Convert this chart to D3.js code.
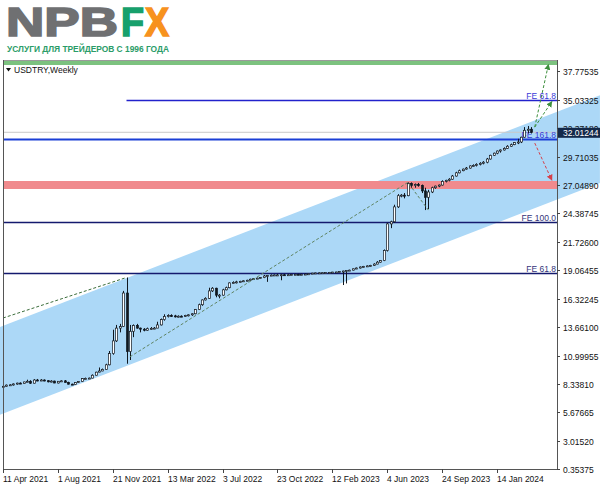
<!DOCTYPE html>
<html>
<head>
<meta charset="utf-8">
<script src="https://cdn.jsdelivr.net/npm/d3@7"></script>
<style>
  body { margin: 0; background: #fff; }
  svg { display: block; }
</style>
</head>
<body>
<svg id="chart" width="600" height="489"></svg>
<script>
// weekly candles, first one starts on this sunday
const firstWeek = "2021-04-11";
// [open, high, low, close]
const candles = [
  [8.10,8.20,8.05,8.13],[8.13,8.30,8.10,8.24],[8.24,8.33,8.18,8.27],[8.27,8.40,8.20,8.35],
  [8.35,8.47,8.28,8.43],[8.43,8.50,8.35,8.38],[8.38,8.56,8.37,8.54],[8.54,8.75,8.52,8.60],
  [8.60,8.70,8.35,8.42],[8.42,8.80,8.40,8.72],[8.72,8.82,8.60,8.70],[8.70,8.80,8.62,8.72],
  [8.72,8.78,8.60,8.66],[8.66,8.70,8.50,8.55],[8.55,8.70,8.50,8.62],[8.62,8.66,8.42,8.44],
  [8.44,8.62,8.40,8.60],[8.60,8.70,8.55,8.64],[8.64,8.72,8.48,8.50],[8.50,8.56,8.30,8.33],
  [8.33,8.38,8.26,8.30],[8.30,8.50,8.28,8.48],[8.48,8.60,8.45,8.58],[8.58,8.90,8.55,8.85],
  [8.85,8.95,8.80,8.87],[8.87,8.95,8.82,8.90],[8.90,9.25,8.88,9.17],[9.17,9.50,9.15,9.46],
  [9.46,9.90,9.45,9.57],[9.57,9.80,9.55,9.72],[9.72,10.25,9.70,10.15],[10.15,11.45,10.10,11.20],
  [11.20,13.45,11.10,12.40],[12.40,13.90,12.30,13.60],[13.60,14.00,13.20,13.75],[13.75,17.10,13.70,16.90],
  [16.90,18.36,10.25,11.40],[11.40,13.90,10.60,13.30],[13.30,13.95,12.75,13.85],[13.85,14.00,13.55,13.60],
  [13.60,13.65,13.20,13.50],[13.50,13.60,13.30,13.40],[13.40,13.65,13.35,13.55],[13.55,13.70,13.45,13.58],
  [13.58,13.70,13.50,13.60],[13.60,14.20,13.60,13.90],[13.90,14.50,13.85,14.40],[14.40,14.90,14.30,14.70],
  [14.70,14.90,14.60,14.78],[14.78,14.90,14.65,14.75],[14.75,14.85,14.60,14.68],[14.68,14.80,14.60,14.72],
  [14.72,14.80,14.65,14.70],[14.70,14.85,14.65,14.80],[14.80,14.90,14.70,14.85],[14.85,15.00,14.75,14.95],
  [14.95,15.40,14.90,15.35],[15.35,15.90,15.30,15.80],[15.80,16.30,15.70,16.25],[16.25,16.50,16.20,16.40],
  [16.40,17.40,16.35,17.10],[17.10,17.45,17.00,17.35],[17.35,17.40,16.50,16.70],[16.70,16.80,16.40,16.70],
  [16.70,17.30,16.65,17.20],[17.20,17.50,17.15,17.40],[17.40,17.90,17.35,17.85],[17.85,18.00,17.80,17.90],
  [17.90,18.05,17.80,17.95],[17.95,18.05,17.90,18.00],[18.00,18.10,17.95,18.05],[18.05,18.15,18.00,18.10],
  [18.10,18.25,18.05,18.20],[18.20,18.30,18.15,18.25],[18.25,18.35,18.20,18.30],[18.30,18.40,18.25,18.35],
  [18.35,18.60,18.30,18.50],[18.50,18.60,17.95,18.55],[18.55,18.65,18.50,18.58],[18.58,18.65,18.52,18.60],
  [18.60,18.70,18.55,18.60],[18.60,18.70,18.10,18.62],[18.62,18.70,18.55,18.60],[18.60,18.70,18.55,18.62],
  [18.62,18.70,18.58,18.64],[18.64,18.72,18.60,18.66],[18.66,18.72,18.62,18.65],[18.65,18.72,18.60,18.66],
  [18.66,18.73,18.62,18.68],[18.68,18.75,18.65,18.71],[18.71,18.80,18.68,18.77],[18.77,18.82,18.74,18.79],
  [18.79,18.84,18.76,18.80],[18.80,18.84,18.77,18.81],[18.81,18.85,18.78,18.83],[18.83,18.88,18.80,18.84],
  [18.84,18.89,18.82,18.87],[18.87,18.90,18.83,18.88],[18.88,18.95,18.85,18.92],[18.92,19.00,17.65,18.97],
  [18.97,19.05,17.80,19.02],[19.02,19.10,18.98,19.05],[19.05,19.20,19.02,19.18],[19.18,19.30,19.15,19.25],
  [19.25,19.40,19.20,19.35],[19.35,19.45,19.30,19.40],[19.40,19.50,19.35,19.45],[19.45,19.55,19.40,19.50],
  [19.50,19.70,19.45,19.62],[19.62,19.90,19.60,19.80],[19.80,20.00,19.75,19.95],[19.95,21.00,19.90,20.90],
  [20.90,23.50,20.80,23.40],[23.40,23.70,23.00,23.60],[23.60,25.20,23.50,25.00],[25.00,26.20,24.90,26.05],
  [26.05,26.20,25.90,26.10],[26.10,26.30,25.80,26.05],[26.05,27.30,26.00,27.20],[27.20,27.30,26.80,27.00],
  [27.00,27.20,26.80,27.10],[27.10,27.25,26.90,27.00],[27.00,27.10,26.30,26.50],[26.50,26.80,24.70,25.90],
  [25.90,26.60,24.80,26.40],[26.40,26.90,26.30,26.80],[26.80,27.00,26.70,26.95],[26.95,27.10,26.85,27.05],
  [27.05,27.50,27.00,27.40],[27.40,27.55,27.30,27.50],[27.50,27.70,27.40,27.60],[27.60,28.00,27.55,27.90],
  [27.90,28.30,27.85,28.20],[28.20,28.50,28.15,28.40],[28.40,28.60,28.35,28.55],[28.55,28.75,28.50,28.65],
  [28.65,28.90,28.60,28.85],[28.85,29.00,28.80,28.90],[28.90,29.10,28.80,29.00],[29.00,29.20,28.90,29.10],
  [29.10,29.30,29.00,29.20],[29.20,29.60,29.10,29.50],[29.50,29.90,29.45,29.85],[29.85,30.10,29.80,30.05],
  [30.05,30.30,29.95,30.25],[30.25,30.40,30.10,30.35],[30.35,30.60,30.30,30.50],[30.50,30.80,30.45,30.70],
  [30.70,30.95,30.65,30.85],[30.85,31.10,30.80,31.05],[31.05,31.40,30.90,31.10],[31.10,31.60,31.00,31.55],
  [31.55,32.50,31.50,32.20],[32.20,32.60,31.90,32.30],[32.30,32.50,31.90,32.01244]
];

const priceTicks = ["37.77535","35.03325","32.37180","29.71035","27.04890","24.38745","21.72600",
  "19.06455","16.32245","13.66100","10.99955","8.33810","5.67665","3.01520","0.35375"];
const dateTicks = ["11 Apr 2021","1 Aug 2021","21 Nov 2021","13 Mar 2022","3 Jul 2022","23 Oct 2022",
  "12 Feb 2023","4 Jun 2023","24 Sep 2023","14 Jan 2024"];
const lastPrice = 32.01244;

// fibonacci expansion levels: [price, start date, label]
const feLevels = [
  [35.03, "2021-12-19", "FE 61.8"],
  [31.38, "2021-04-04", "FE 161.8"],
  [23.60, "2021-04-04", "FE 100.0"],
  [18.78, "2021-04-04", "FE 61.8"]
];
const greenLevel = 38.57;
const redLevel = 27.05;

// channel edges [date, price]
const channelTop = [["2021-04-04", 13.70], ["2024-08-11", 35.50]];
const channelBottom = [["2021-04-04", 5.43], ["2024-08-11", 27.24]];

// dashed lines
const trendGreen = [["2021-04-11", 14.55], ["2021-12-19", 18.36]];
const trendGrey = [["2021-12-26", 10.90], ["2023-07-16", 27.30], ["2023-08-27", 24.70]];
const arrowsUp = [
  [["2024-03-31", 32.50], ["2024-04-28", 38.40]],
  [["2024-03-31", 32.50], ["2024-05-05", 34.90]]
];
const arrowDown = [["2024-03-31", 31.00], ["2024-05-05", 27.50]];

const parseDay = d3.timeParse("%Y-%m-%d");
const parseTick = d3.timeParse("%d %b %Y");

const svg = d3.select("#chart");
const plotL = 3, plotR = 557, plotT = 60, plotB = 469;
const fontAxis = "'Liberation Sans', Arial, sans-serif";

const x = d3.scaleTime()
    .domain([parseDay("2021-04-11"), parseDay("2024-01-14")])
    .range([3, 497]);
const y = d3.scaleLinear()
    .domain([0.35375, 37.77535])
    .range([469, 71]);

const weekDate = i => d3.timeWeek.offset(parseDay(firstWeek), i);
const pt = d => [x(parseDay(d[0])), y(d[1])];

// ---- logo
const logo = svg.append("g").style("font-family", fontAxis).style("font-weight", "bold");
logo.append("text").attr("x", 6).attr("y", 36).attr("font-size", 40)
    .attr("textLength", 112).attr("lengthAdjust", "spacingAndGlyphs")
    .attr("fill", "#6f7072").attr("stroke", "#6f7072").attr("stroke-width", 1.6).text("NPB");
logo.append("text").attr("x", 121).attr("y", 36).attr("font-size", 40)
    .attr("textLength", 23).attr("lengthAdjust", "spacingAndGlyphs")
    .attr("fill", "#17a06c").attr("stroke", "#17a06c").attr("stroke-width", 1.6).text("F");
logo.append("text").attr("x", 145).attr("y", 36).attr("font-size", 40)
    .attr("textLength", 24).attr("lengthAdjust", "spacingAndGlyphs")
    .attr("fill", "#f7921e").attr("stroke", "#f7921e").attr("stroke-width", 1.6).text("X");
logo.append("text").attr("x", 7).attr("y", 52).attr("font-size", 9.6)
    .attr("textLength", 162).attr("lengthAdjust", "spacingAndGlyphs")
    .attr("fill", "#2a9c68").text("УСЛУГИ ДЛЯ ТРЕЙДЕРОВ С 1996 ГОДА");

// ---- channel (goes under the price scale too)
const chan = channelTop.map(pt).concat(channelBottom.slice().reverse().map(pt));
svg.append("polygon")
    .attr("points", chan.map(p => p.join(",")).join(" "))
    .attr("fill", "#acd8f7");

// ---- levels
svg.append("line")
    .attr("x1", plotL).attr("x2", plotR)
    .attr("y1", y(greenLevel)).attr("y2", y(greenLevel))
    .attr("stroke", "#7cc27f").attr("stroke-width", 5);

svg.append("line")
    .attr("x1", plotL).attr("x2", plotR)
    .attr("y1", y(redLevel)).attr("y2", y(redLevel))
    .attr("stroke", "#f08a8d").attr("stroke-width", 8);

// current price line
svg.append("line")
    .attr("x1", plotL).attr("x2", plotR)
    .attr("y1", y(lastPrice)).attr("y2", y(lastPrice))
    .attr("stroke", "#c8c8c8").attr("stroke-width", 1);

const feColors = ["#2222cc", "#1b3fd6", "#141a6e", "#141a6e"];
const feLabelColors = ["#3a3ad8", "#3a3ad8", "#33337a", "#33337a"];
feLevels.forEach(function(f, i) {
    const yy = Math.round(y(f[0])) + 0.5;
    svg.append("line")
        .attr("x1", Math.max(plotL, x(parseDay(f[1])))).attr("x2", plotR)
        .attr("y1", yy).attr("y2", yy)
        .attr("stroke", feColors[i]).attr("stroke-width", i == 1 ? 2 : 1.6);
    svg.append("text")
        .attr("x", plotR - 1).attr("y", yy - 2)
        .attr("text-anchor", "end")
        .style("font-family", fontAxis).style("font-size", "8.5px")
        .attr("fill", feLabelColors[i])
        .text(f[2]);
});

// ---- candles
const cg = svg.append("g");
cg.selectAll("line.wick").data(candles).join("line")
    .attr("class", "wick")
    .attr("x1", (d, i) => Math.round(x(weekDate(i))) + 0.5)
    .attr("x2", (d, i) => Math.round(x(weekDate(i))) + 0.5)
    .attr("y1", d => y(d[1])).attr("y2", d => y(d[2]))
    .attr("stroke", "#101820").attr("stroke-width", 1);
cg.selectAll("rect.body").data(candles).join("rect")
    .attr("class", "body")
    .attr("x", (d, i) => Math.round(x(weekDate(i))) - 0.5)
    .attr("width", 2)
    .attr("y", d => y(Math.max(d[0], d[3])))
    .attr("height", d => Math.max(1, Math.abs(y(d[0]) - y(d[3]))))
    .attr("fill", d => d[3] >= d[0] ? "#ffffff" : "#101820")
    .attr("stroke", "#101820").attr("stroke-width", 0.7);

// ---- dashed lines and arrows
const defs = svg.append("defs");
[["headGreen", "#3d8f3d"], ["headRed", "#d6404a"]].forEach(function(m) {
    defs.append("marker").attr("id", m[0])
        .attr("viewBox", "0 0 10 10").attr("refX", 9).attr("refY", 5)
        .attr("markerWidth", 6).attr("markerHeight", 6)
        .attr("orient", "auto")
        .append("path").attr("d", "M0,0L10,5L0,10z").attr("fill", m[1]);
});

const line = d3.line();
svg.append("path").attr("d", line(trendGreen.map(pt)))
    .attr("fill", "none").attr("stroke", "#3c6e3c").attr("stroke-width", 1)
    .attr("stroke-dasharray", "3,2");
svg.append("path").attr("d", line(trendGrey.map(pt)))
    .attr("fill", "none").attr("stroke", "#5f8462").attr("stroke-width", 1)
    .attr("stroke-dasharray", "3,2");
arrowsUp.forEach(function(a) {
    svg.append("path").attr("d", line(a.map(pt)))
        .attr("fill", "none").attr("stroke", "#3d8f3d").attr("stroke-width", 1)
        .attr("stroke-dasharray", "3,2").attr("marker-end", "url(#headGreen)");
});
svg.append("path").attr("d", line(arrowDown.map(pt)))
    .attr("fill", "none").attr("stroke", "#d6404a").attr("stroke-width", 1)
    .attr("stroke-dasharray", "3,2").attr("marker-end", "url(#headRed)");

// ---- frame
svg.append("line").attr("x1", plotL).attr("x2", plotR).attr("y1", plotT + 0.5).attr("y2", plotT + 0.5)
    .attr("stroke", "#9a9a9a");
svg.append("line").attr("x1", plotL + 0.5).attr("x2", plotL + 0.5).attr("y1", plotT).attr("y2", plotB)
    .attr("stroke", "#555");
svg.append("line").attr("x1", plotL).attr("x2", plotR).attr("y1", plotB + 0.5).attr("y2", plotB + 0.5)
    .attr("stroke", "#555");
svg.append("line").attr("x1", plotR + 0.5).attr("x2", plotR + 0.5).attr("y1", plotT).attr("y2", plotB + 1)
    .attr("stroke", "#555");

// symbol title
svg.append("path").attr("d", "M6,68L11,68L8.5,71.5z").attr("fill", "#111");
svg.append("text").attr("x", 14).attr("y", 73)
    .style("font-family", fontAxis).style("font-size", "8.5px").attr("fill", "#111")
    .text("USDTRY,Weekly");

// ---- price scale
const yAxis = svg.append("g");
priceTicks.forEach(function(t) {
    const yy = Math.round(y(+t)) + 0.5;
    yAxis.append("line").attr("x1", plotR).attr("x2", plotR + 3)
        .attr("y1", yy).attr("y2", yy).attr("stroke", "#444");
    yAxis.append("text").attr("x", plotR + 6).attr("y", yy + 3)
        .style("font-family", fontAxis).style("font-size", "8.5px").attr("fill", "#111")
        .text(t);
});
const ly = y(lastPrice);
yAxis.append("rect").attr("x", plotR + 1).attr("y", ly - 4.5).attr("width", 43).attr("height", 10)
    .attr("fill", "#13294a");
yAxis.append("text").attr("x", plotR + 6).attr("y", ly + 3.5)
    .style("font-family", fontAxis).style("font-size", "8.5px").attr("fill", "#fff")
    .text(lastPrice.toFixed(5));

// ---- time scale
const xAxis = svg.append("g");
dateTicks.forEach(function(t) {
    const xx = Math.round(x(parseTick(t))) + 0.5;
    xAxis.append("line").attr("x1", xx).attr("x2", xx)
        .attr("y1", plotB).attr("y2", plotB + 4).attr("stroke", "#444");
    xAxis.append("text").attr("x", xx - 0.5).attr("y", plotB + 13)
        .style("font-family", fontAxis).style("font-size", "8.5px").attr("fill", "#111")
        .text(t);
});
</script>
</body>
</html>
